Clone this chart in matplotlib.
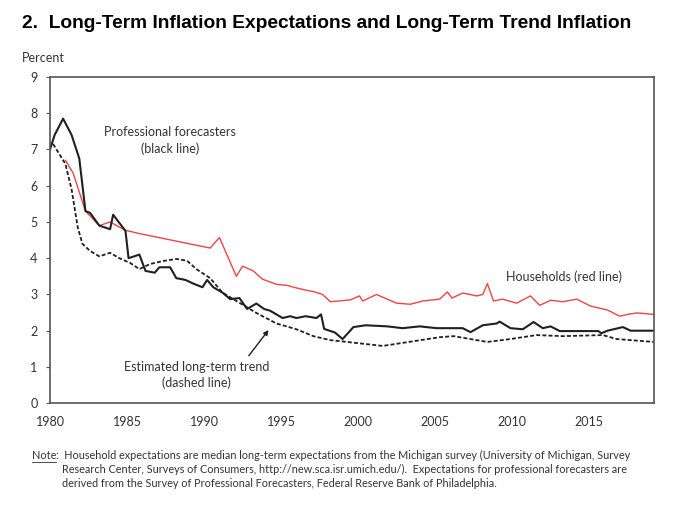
import matplotlib.pyplot as plt

# Professional forecasters (black line)
pro_year = [1980.0, 1980.3, 1980.85, 1981.4, 1981.9, 1982.3, 1982.6, 1983.2, 1983.9,
            1984.1, 1984.9, 1985.1, 1985.8, 1986.2, 1986.8, 1987.1, 1987.8, 1988.2,
            1988.8, 1989.3, 1989.9, 1990.2, 1990.6, 1991.2, 1991.7, 1992.3, 1992.8,
            1993.4, 1993.9, 1994.3, 1995.1, 1995.6, 1996.0, 1996.6, 1997.3, 1997.6,
            1997.8, 1998.5, 1999.0, 1999.7, 2000.5, 2001.9, 2002.9, 2004.0, 2005.1,
            2006.8, 2007.3, 2008.1, 2009.0, 2009.2, 2009.9, 2010.7, 2011.4, 2012.0,
            2012.5, 2013.1, 2015.6, 2015.8, 2016.2, 2017.2, 2017.7, 2019.2]
pro_val = [7.0, 7.4, 7.85, 7.4, 6.75, 5.3, 5.25, 4.9, 4.8,
           5.2, 4.75, 4.0, 4.1, 3.65, 3.6, 3.75, 3.75, 3.45,
           3.4, 3.3, 3.2, 3.4, 3.2, 3.05, 2.87, 2.9, 2.6,
           2.75, 2.6, 2.55, 2.35, 2.4, 2.35, 2.4, 2.35, 2.45,
           2.05, 1.95, 1.77, 2.1, 2.15, 2.12, 2.07, 2.12, 2.07,
           2.07, 1.96, 2.15, 2.2, 2.25, 2.07, 2.04, 2.24, 2.07,
           2.12, 1.99, 1.99, 1.93, 2.0, 2.1, 2.0, 2.0]

# Households (red line)
hh_year = [1981.0, 1981.5, 1982.3, 1983.2, 1983.9, 1984.9, 1985.8, 1990.4, 1991.0,
           1992.1, 1992.5, 1993.2, 1993.8, 1994.7, 1995.4, 1996.0, 1996.6, 1997.1,
           1997.7, 1998.2, 1999.5, 2000.1, 2000.3, 2001.2, 2002.5, 2003.4, 2004.2,
           2005.3, 2005.8, 2006.1, 2006.8, 2007.7, 2008.1, 2008.4, 2008.8, 2009.4,
           2010.3, 2011.2, 2011.8, 2012.5, 2013.3, 2014.2, 2015.1, 2016.2, 2017.0,
           2017.5, 2018.1, 2018.7, 2019.2]
hh_val = [6.7, 6.35, 5.3, 4.9, 5.0, 4.77, 4.68, 4.28, 4.57,
          3.5, 3.78, 3.65, 3.42, 3.28, 3.25, 3.18, 3.12, 3.08,
          3.0, 2.8, 2.85, 2.96, 2.82, 3.0, 2.76, 2.73, 2.82,
          2.87, 3.07, 2.9, 3.04, 2.96, 3.0, 3.3, 2.82, 2.87,
          2.76, 2.96, 2.7, 2.84, 2.8, 2.87, 2.68, 2.57, 2.4,
          2.45, 2.49, 2.47, 2.45]

# Estimated long-term trend (dashed line)
trend_year = [1980.2, 1981.0, 1981.4, 1981.8, 1982.1, 1982.6, 1983.2, 1983.9, 1984.5,
              1985.2, 1985.8, 1986.5, 1987.3, 1988.2, 1988.9, 1989.5, 1990.4, 1991.2,
              1992.1, 1993.4, 1994.7, 1996.0, 1997.1, 1998.2, 1999.3, 2001.6, 2003.6,
              2005.3, 2006.2, 2007.3, 2008.4, 2009.9, 2011.6, 2013.3, 2015.9, 2016.8,
              2019.2]
trend_val = [7.15, 6.6, 5.9, 4.85, 4.4, 4.2, 4.05, 4.15, 4.0,
             3.87, 3.7, 3.84, 3.92, 3.98, 3.93, 3.7, 3.45, 3.05,
             2.82, 2.49, 2.2, 2.04, 1.85, 1.74, 1.69, 1.58, 1.71,
             1.82, 1.85, 1.77, 1.69, 1.77, 1.88, 1.85, 1.88, 1.77,
             1.69]

x_ticks = [1980, 1985, 1990, 1995, 2000, 2005, 2010, 2015]
y_ticks = list(range(0, 10))

plt.rcParams['font.family'] = ['Lato', 'DejaVu Sans']

fig = plt.figure(figsize=(6.76, 5.13), dpi=100)
ax = fig.add_axes([0.074, 0.214, 0.893, 0.636])

ax.plot(hh_year, hh_val, color='#f04444', lw=1.0)
ax.plot(trend_year, trend_val, color='#202020', lw=1.3, ls=(0, (2.2, 1.2)))
ax.plot(pro_year, pro_val, color='#202020', lw=1.5)

ax.set_xlim(1980, 2019.2)
ax.set_ylim(0, 9)
ax.set_xticks(x_ticks)
ax.set_yticks(y_ticks)
ax.tick_params(axis='y', labelsize=9, length=3, color='#555555', pad=6, labelcolor='#333333')
ax.tick_params(axis='x', labelsize=9, length=0, pad=9, labelcolor='#333333')
for s in ax.spines.values():
    s.set_color('#555555')
    s.set_linewidth(1.2)

ax.text(1987.8, 7.25, 'Professional forecasters\n(black line)', ha='center', va='center',
        fontsize=9, color='#333333', linespacing=1.35)
ax.text(2013.4, 3.48, 'Households (red line)', ha='center', va='center',
        fontsize=9, color='#333333')
ax.text(1989.5, 0.77, 'Estimated long-term trend\n(dashed line)', ha='center', va='center',
        fontsize=9, color='#333333', linespacing=1.35)
ax.annotate('', xy=(1994.3, 2.08), xytext=(1992.8, 1.25),
            arrowprops=dict(arrowstyle='-|>', color='#202020', lw=1.0, mutation_scale=7))

fig.text(0.033, 0.955, '2.  Long-Term Inflation Expectations and Long-Term Trend Inflation',
         fontsize=13.8, fontweight='bold', family='Liberation Sans', va='center')
fig.text(0.033, 0.887, 'Percent', fontsize=9, color='#333333', va='center')

note_fs = 7.8
note = fig.text(0.047, 0.105, 'Note', fontsize=note_fs, color='#333333', va='baseline')
fig.canvas.draw()
bb = note.get_window_extent().transformed(fig.transFigure.inverted())
fig.add_artist(plt.Line2D([bb.x0, bb.x1], [0.099, 0.099], color='#333333', lw=0.6))
fig.text(bb.x1, 0.105, ':  Household expectations are median long-term expectations from the Michigan survey '
         '(University of Michigan, Survey', fontsize=note_fs, color='#333333', va='baseline')
fig.text(0.092, 0.078, 'Research Center, Surveys of Consumers, http://new.sca.isr.umich.edu/).  '
         'Expectations for professional forecasters are', fontsize=note_fs, color='#333333', va='baseline')
fig.text(0.092, 0.051, 'derived from the Survey of Professional Forecasters, Federal Reserve Bank of Philadelphia.',
         fontsize=note_fs, color='#333333', va='baseline')

fig.savefig('out.png', dpi=100)
